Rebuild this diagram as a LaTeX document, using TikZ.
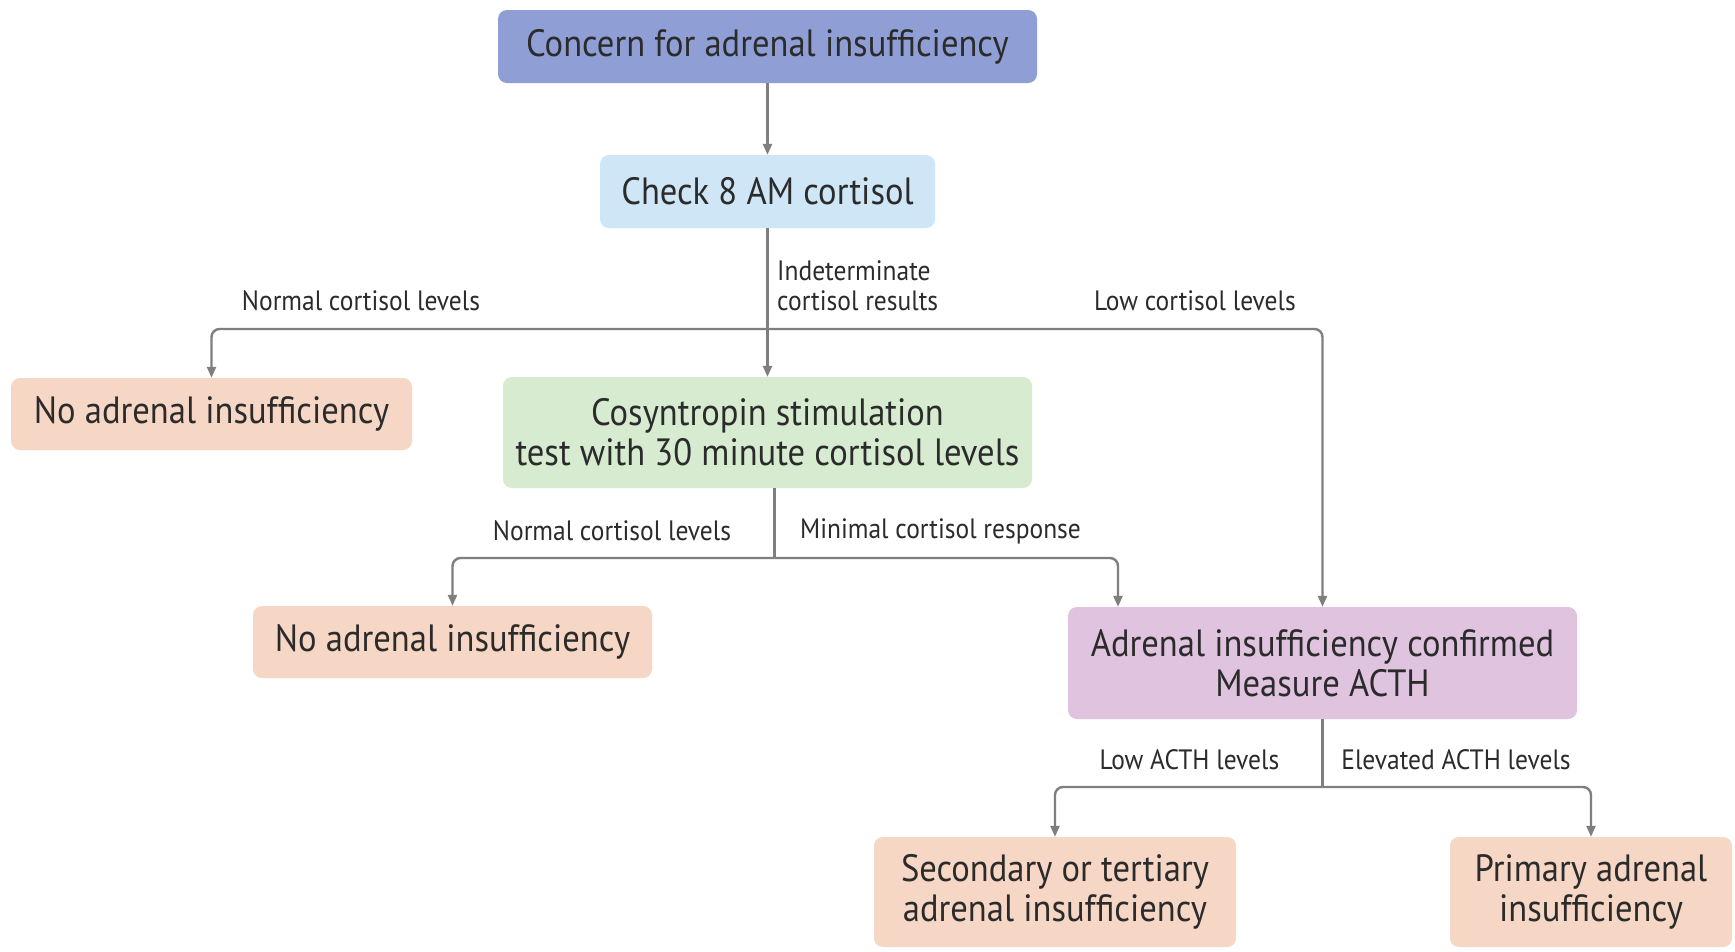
\documentclass[tikz,border=0pt]{standalone}
\usepackage{fontspec}
\setmainfont{PT Sans}[FakeStretch=0.91]
\usetikzlibrary{arrows.meta}
\definecolor{cblue}{HTML}{8F9FD6}
\definecolor{clight}{HTML}{CFE6F6}
\definecolor{cgreen}{HTML}{D6EBD0}
\definecolor{cpeach}{HTML}{F6D6C4}
\definecolor{cmauve}{HTML}{DFC3DF}
\definecolor{cline}{HTML}{7F7F7F}
\definecolor{ctext}{HTML}{2B2B2B}
\tikzset{
  box/.style={rounded corners=9pt, text=ctext, align=center, inner sep=0pt,
    font=\fontsize{38}{40}\selectfont},
  lbl/.style={text=ctext, inner sep=0pt, font=\fontsize{28}{30}\selectfont},
  link/.style={draw=cline, line width=2.4pt, rounded corners=8pt,
    -{Triangle[length=11pt,width=9pt]}},
  plain/.style={draw=cline, line width=2.4pt},
}
\begin{document}
\begin{tikzpicture}[x=1pt,y=-1pt]
\useasboundingbox[fill=white] (0,0) rectangle (1735,951);

% boxes
\node[box, fill=cblue, minimum width=539pt, minimum height=73pt] (concern) at (767.5,46.5) {Concern for adrenal insufficiency};
\node[box, fill=clight, minimum width=335pt, minimum height=73pt] (check) at (767.5,191.5) {Check 8 AM cortisol};
\node[box, fill=cpeach, minimum width=401pt, minimum height=72pt] (noA) at (211.5,414) {No adrenal insufficiency};
\node[box, fill=cgreen, minimum width=529pt, minimum height=111pt] (cosyn) at (767.5,432.5) {Cosyntropin stimulation\\test with 30 minute cortisol levels};
\node[box, fill=cpeach, minimum width=399pt, minimum height=72pt] (noB) at (452.5,642) {No adrenal insufficiency};
\node[box, fill=cmauve, minimum width=509pt, minimum height=112pt] (confirmed) at (1322.5,663) {Adrenal insufficiency confirmed\\Measure ACTH};
\node[box, fill=cpeach, minimum width=362pt, minimum height=110pt] (secondary) at (1055,892) {Secondary or tertiary\\adrenal insufficiency};
\node[box, fill=cpeach, minimum width=282pt, minimum height=110pt] (primary) at (1591,892) {Primary adrenal\\insufficiency};

% branch points
\coordinate (j1) at (767.5,329);
\coordinate (j2) at (774.5,558);
\coordinate (j3) at (1322.5,787);

% connectors
\draw[link] (concern) -- (check);
\draw[link] (check) -- (cosyn);
\draw[link] (j1) -| (noA.north);
\draw[link] (j1) -| (confirmed.north);
\draw[plain] (cosyn.south -| j2) -- (j2);
\draw[link] (j2) -| (noB.north);
\draw[link] (j2) -| ([xshift=-204.5pt]confirmed.north);
\draw[plain] (confirmed.south) -- (j3);
\draw[link] (j3) -| (secondary.north);
\draw[link] (j3) -| (primary.north);

% branch labels
\node[lbl] (l1) at (361,301) {Normal cortisol levels};
\node[lbl, anchor=west, align=left] (l2) at (777,286) {Indeterminate\\cortisol results};
\node[lbl] (l3) at (1195,301) {Low cortisol levels};
\node[lbl] (l4) at (612,531) {Normal cortisol levels};
\node[lbl] (l5) at (940.5,531) {Minimal cortisol response};
\node[lbl] (l6) at (1189.5,760) {Low ACTH levels};
\node[lbl] (l7) at (1456,760) {Elevated ACTH levels};
\end{tikzpicture}
\end{document}
